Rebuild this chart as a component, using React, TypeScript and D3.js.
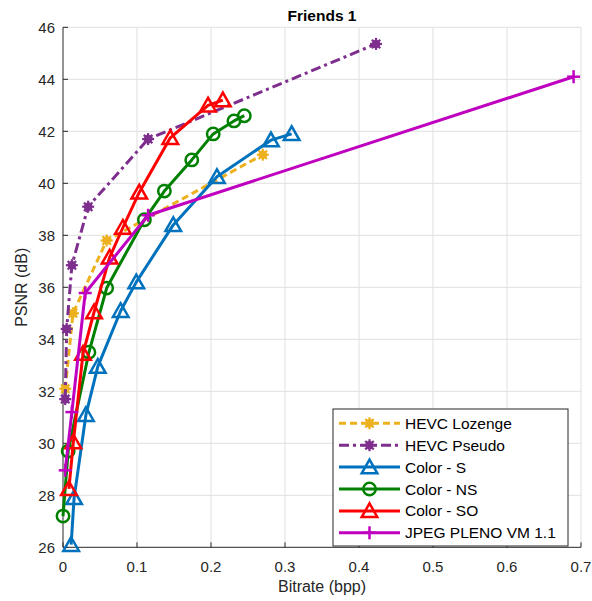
import React from "react";
import * as d3 from "d3";

const xTicks = [0, 0.1, 0.2, 0.3, 0.4, 0.5, 0.6, 0.7];
const yTicks = [26, 28, 30, 32, 34, 36, 38, 40, 42, 44, 46];

const hevcLozenge: [number, number][] = [
  [0.003, 32.1], [0.0135, 35.0], [0.059, 37.8], [0.27, 41.1],
];
const hevcPseudo: [number, number][] = [
  [0.003, 31.7], [0.005, 34.4], [0.012, 36.85], [0.034, 39.1], [0.115, 41.7], [0.423, 45.36],
];
const colorS: [number, number][] = [
  [0.011, 26.1], [0.015, 27.9], [0.031, 31.1], [0.047, 32.95], [0.078, 35.1],
  [0.099, 36.2], [0.149, 38.4], [0.208, 40.25], [0.281, 41.66], [0.309, 41.9],
];
const colorNS: [number, number][] = [
  [0.0, 27.2], [0.007, 29.7], [0.035, 33.5], [0.059, 35.97], [0.11, 38.6],
  [0.137, 39.7], [0.174, 40.9], [0.203, 41.9], [0.231, 42.4], [0.245, 42.6],
];
const colorSO: [number, number][] = [
  [0.008, 28.25], [0.014, 30.05], [0.027, 33.45], [0.042, 35.05], [0.063, 37.15],
  [0.081, 38.3], [0.103, 39.65], [0.145, 41.75], [0.196, 43.0], [0.216, 43.2],
];
const jpegPleno: [number, number][] = [
  [0.003, 28.96], [0.012, 31.2], [0.03, 35.78], [0.115, 38.77], [0.69, 44.1],
];

type Marker = "asterisk" | "triangle" | "circle" | "plus";
const seriesNames = ["HEVC Lozenge", "HEVC Pseudo", "Color - S", "Color - NS", "Color - SO", "JPEG PLENO VM 1.1"];
const seriesData = [hevcLozenge, hevcPseudo, colorS, colorNS, colorSO, jpegPleno];
const seriesColors = ["#EDB120", "#7E2F8E", "#0072BD", "#008000", "#FF0000", "#BF00BF"];
const seriesDash = ["7 4", "10 4 3 4", "", "", "", ""];
const seriesMarkers: Marker[] = ["asterisk", "asterisk", "triangle", "circle", "triangle", "plus"];

const W = 592, H = 601;
const L = 63, R = 581, T = 27.3, B = 547.3;
const font = "Liberation Sans, Arial, Helvetica, sans-serif";
const txt = "#262626";

function MarkerShape({ type, x, y, color }: { type: Marker; x: number; y: number; color: string }) {
  if (type === "circle") {
    return <circle cx={x} cy={y} r={6.2} fill="none" stroke={color} strokeWidth={2.5} />;
  }
  if (type === "triangle") {
    const p = `${x},${y - 7.5} ${x - 7.8},${y + 6.2} ${x + 7.8},${y + 6.2}`;
    return <polygon points={p} fill="none" stroke={color} strokeWidth={2.5} strokeLinejoin="miter" />;
  }
  if (type === "plus") {
    return (
      <g stroke={color} strokeWidth={2.5}>
        <line x1={x - 6.5} y1={y} x2={x + 6.5} y2={y} />
        <line x1={x} y1={y - 6.5} x2={x} y2={y + 6.5} />
      </g>
    );
  }
  const arms = [0, 45, 90, 135].map((a) => {
    const r = (a * Math.PI) / 180;
    return <line key={a} x1={x - 6 * Math.cos(r)} y1={y - 6 * Math.sin(r)} x2={x + 6 * Math.cos(r)} y2={y + 6 * Math.sin(r)} />;
  });
  return (
    <g stroke={color} strokeWidth={2.2}>
      {arms}
      <circle cx={x} cy={y} r={4.3} fill={color} stroke="none" />
    </g>
  );
}

export default function App() {
  const xs = d3.scaleLinear().domain([0, 0.7]).range([L, R]);
  const ys = d3.scaleLinear().domain([26, 46]).range([B, T]);
  const line = d3.line<[number, number]>().x((d) => xs(d[0])).y((d) => ys(d[1]));

  const legX = 333, legY = 409, legW = 235, legH = 137;
  const rowY0 = 423.3, rowStep = 21.9;

  return (
    <svg width={W} height={H} style={{ position: "absolute", left: 0, top: 0, background: "#fff" }} fontFamily={font}>
      <rect x={0} y={0} width={W} height={H} fill="#fff" />
      {/* grid */}
      <g stroke="#dfdfdf" strokeWidth={1}>
        {xTicks.slice(1).map((t) => (
          <line key={"gx" + t} x1={xs(t)} x2={xs(t)} y1={T} y2={B} />
        ))}
        {yTicks.slice(1).map((t) => (
          <line key={"gy" + t} x1={L} x2={R} y1={ys(t)} y2={ys(t)} />
        ))}
      </g>
      {/* axes */}
      <g stroke={txt} strokeWidth={1}>
        <line x1={L} x2={L} y1={T} y2={B} />
        <line x1={L} x2={R} y1={B} y2={B} />
        {xTicks.map((t) => (
          <line key={"tx" + t} x1={xs(t)} x2={xs(t)} y1={B} y2={B - 5} />
        ))}
        {yTicks.map((t) => (
          <line key={"ty" + t} x1={L} x2={L + 5} y1={ys(t)} y2={ys(t)} />
        ))}
      </g>
      <g fill={txt} fontSize={15}>
        {xTicks.map((t) => (
          <text key={"lx" + t} x={xs(t)} y={572} textAnchor="middle">{String(t)}</text>
        ))}
        {yTicks.map((t) => (
          <text key={"ly" + t} x={55} y={ys(t) + 5.3} textAnchor="end">{String(t)}</text>
        ))}
      </g>
      <text x={(L + R) / 2} y={592} textAnchor="middle" fontSize={16} fill={txt}>Bitrate (bpp)</text>
      <text transform={`translate(27,${(T + B) / 2}) rotate(-90)`} textAnchor="middle" fontSize={16} fill={txt}>PSNR (dB)</text>
      <text x={(L + R) / 2} y={21} textAnchor="middle" fontSize={15.5} fontWeight="bold" fill="#000">Friends 1</text>

      {/* series */}
      {seriesData.map((data, i) => (
        <g key={"s" + i}>
          <path d={line(data) || ""} fill="none" stroke={seriesColors[i]} strokeWidth={3} strokeDasharray={seriesDash[i] || undefined} strokeLinejoin="round" />
          {data.map((d, j) => (
            <MarkerShape key={j} type={seriesMarkers[i]} x={xs(d[0])} y={ys(d[1])} color={seriesColors[i]} />
          ))}
        </g>
      ))}

      {/* legend */}
      <rect x={legX} y={legY} width={legW} height={legH} fill="#fff" stroke={txt} strokeWidth={1} />
      {seriesNames.map((name, i) => {
        const y = rowY0 + i * rowStep;
        return (
          <g key={"leg" + i}>
            <line x1={339} x2={400} y1={y} y2={y} stroke={seriesColors[i]} strokeWidth={3} strokeDasharray={seriesDash[i] || undefined} />
            <MarkerShape type={seriesMarkers[i]} x={369.5} y={y} color={seriesColors[i]} />
            <text x={405} y={y + 5.5} fontSize={15.5} fill="#000">{name}</text>
          </g>
        );
      })}
    </svg>
  );
}
